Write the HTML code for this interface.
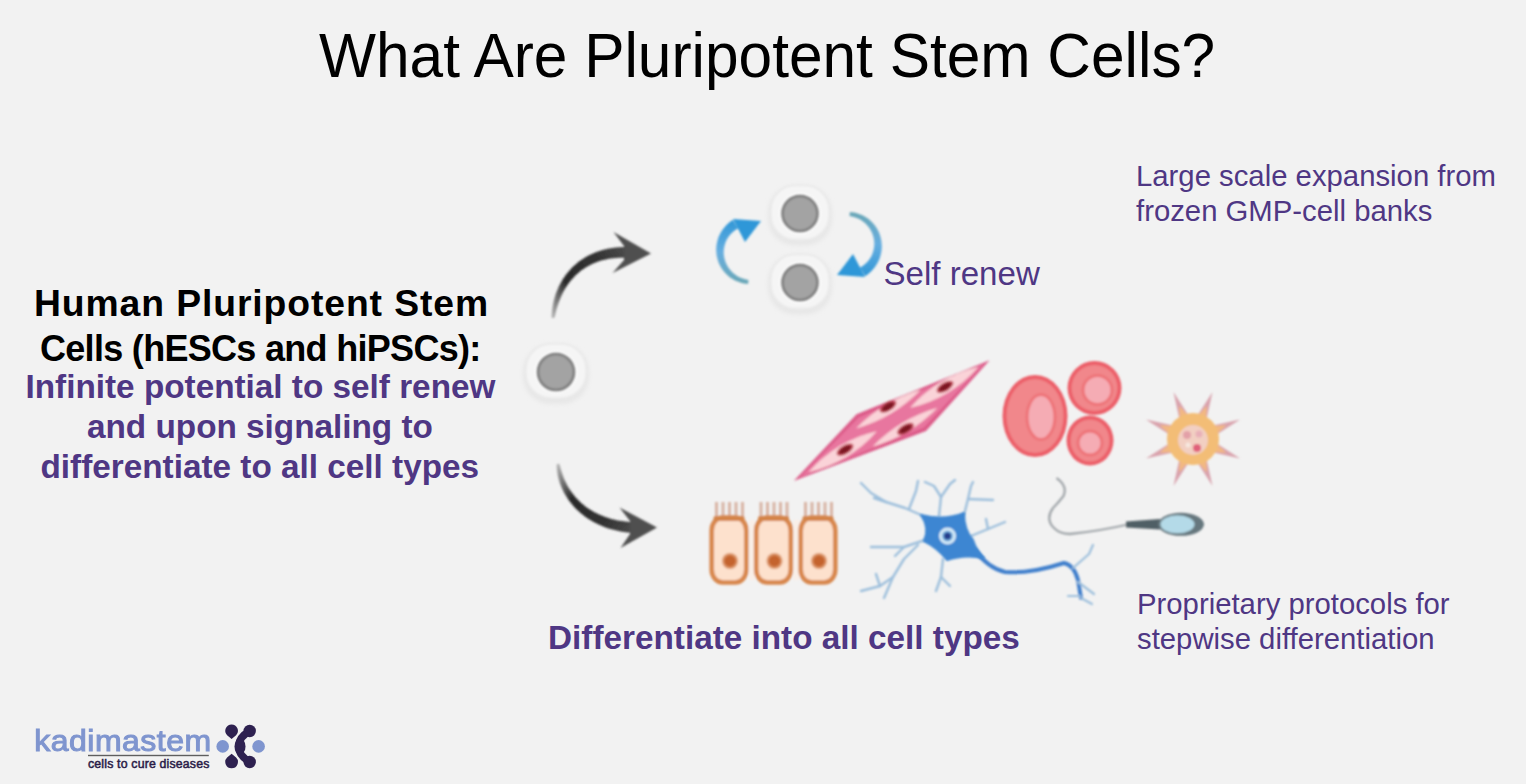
<!DOCTYPE html>
<html><head><meta charset="utf-8">
<style>
html,body{margin:0;padding:0;}
body{width:1526px;height:784px;background:#f2f2f2;position:relative;overflow:hidden;font-family:"Liberation Sans",sans-serif;}
.t{position:absolute;white-space:nowrap;line-height:1;}
#title{left:319px;top:24.1px;font-size:60.4px;color:#000;transform:scale(1,1.045);transform-origin:0 0;}
.lb{font-weight:bold;color:#000;font-size:38px;}
.lp{font-weight:bold;color:#4f3784;font-size:33.3px;}
.rp{color:#4f3784;font-size:29.3px;}
#art{position:absolute;left:0;top:0;}
</style></head><body>
<svg id="art" width="1526" height="784" viewBox="0 0 1526 784">
<defs>
<radialGradient id="nuc" cx="0.45" cy="0.4" r="0.6"><stop offset="0" stop-color="#a9a9a9"/><stop offset="0.7" stop-color="#969696"/><stop offset="1" stop-color="#7c7c7c"/></radialGradient>
<linearGradient id="blk1" gradientUnits="userSpaceOnUse" x1="553" y1="316" x2="650" y2="253"><stop offset="0" stop-color="#b0b0b0"/><stop offset="0.25" stop-color="#2a2a2a"/><stop offset="0.6" stop-color="#333"/><stop offset="1" stop-color="#5a5a5a"/></linearGradient>
<linearGradient id="blk2" gradientUnits="userSpaceOnUse" x1="558" y1="466" x2="656" y2="527"><stop offset="0" stop-color="#b0b0b0"/><stop offset="0.25" stop-color="#2a2a2a"/><stop offset="0.6" stop-color="#333"/><stop offset="1" stop-color="#5a5a5a"/></linearGradient>
<linearGradient id="blu1" gradientUnits="userSpaceOnUse" x1="750" y1="285" x2="750" y2="218"><stop offset="0" stop-color="#6aa6b4"/><stop offset="0.5" stop-color="#66aee0"/><stop offset="1" stop-color="#2d95d6"/></linearGradient>
<filter id="bl1" x="-20%" y="-20%" width="140%" height="140%"><feGaussianBlur stdDeviation="0.8"/></filter>
<filter id="bl2" x="-30%" y="-30%" width="160%" height="160%"><feGaussianBlur stdDeviation="2"/></filter>
</defs>
<rect x="523" y="344" width="66" height="60" rx="27.7" fill="#e7e7e7" filter="url(#bl2)"/>
<rect x="526" y="344" width="60" height="54" rx="25.1" fill="#f5f5f5" stroke="#ebebeb" stroke-width="1.5" filter="url(#bl1)"/>
<circle cx="556" cy="372" r="21.5" fill="#fbfbfb" filter="url(#bl1)"/>
<circle cx="556" cy="372" r="18" fill="#a3a3a3" stroke="#7d7d7d" stroke-width="2.6" filter="url(#bl1)"/>
<rect x="768" y="185.5" width="64" height="60" rx="26.9" fill="#e7e7e7" filter="url(#bl2)"/>
<rect x="771" y="185.5" width="58" height="54" rx="24.3" fill="#f5f5f5" stroke="#ebebeb" stroke-width="1.5" filter="url(#bl1)"/>
<circle cx="800" cy="213.5" r="21" fill="#fbfbfb" filter="url(#bl1)"/>
<circle cx="800" cy="213.5" r="17.5" fill="#a3a3a3" stroke="#7d7d7d" stroke-width="2.6" filter="url(#bl1)"/>
<rect x="768" y="254.5" width="64" height="60" rx="26.9" fill="#e7e7e7" filter="url(#bl2)"/>
<rect x="771" y="254.5" width="58" height="54" rx="24.3" fill="#f5f5f5" stroke="#ebebeb" stroke-width="1.5" filter="url(#bl1)"/>
<circle cx="800" cy="282.5" r="21" fill="#fbfbfb" filter="url(#bl1)"/>
<circle cx="800" cy="282.5" r="17.5" fill="#a3a3a3" stroke="#7d7d7d" stroke-width="2.6" filter="url(#bl1)"/>
<path d="M554.2,318.1 L555.1,315.3 L555.7,312.5 L556.4,309.8 L557.2,307.1 L558,304.5 L558.9,301.9 L559.9,299.4 L560.9,296.9 L562,294.5 L563.2,292.1 L564.5,289.8 L565.8,287.6 L567.2,285.4 L568.7,283.3 L570.3,281.3 L571.9,279.3 L573.6,277.4 L575.3,275.6 L577.2,273.9 L579.1,272.2 L581.1,270.6 L583.1,269.2 L585.3,267.7 L587.5,266.4 L589.7,265.2 L592.1,264 L594.5,263 L597,262 L599.6,261.1 L602.2,260.3 L605,259.7 L607.8,259.1 L610.7,258.6 L613.6,258.2 L616.7,257.9 L619.8,257.8 L623,257.7 L626.3,257.8 L629.8,258 L630.2,247 L626.5,246.9 L622.8,247 L619.2,247.2 L615.7,247.5 L612.3,248 L608.9,248.5 L605.7,249.2 L602.5,250.1 L599.4,251 L596.4,252 L593.5,253.2 L590.7,254.5 L588,255.8 L585.4,257.3 L582.8,258.9 L580.4,260.5 L578,262.3 L575.8,264.2 L573.7,266.1 L571.6,268.1 L569.7,270.2 L567.8,272.4 L566,274.6 L564.4,276.9 L562.8,279.3 L561.4,281.8 L560,284.3 L558.7,286.8 L557.6,289.4 L556.5,292.1 L555.5,294.8 L554.7,297.5 L553.9,300.3 L553.2,303.2 L552.7,306.1 L552.2,309 L551.9,311.9 L551.6,314.9 L551.8,317.9Z" fill="url(#blk1)" filter="url(#bl1)"/>
<path d="M613.5,232 L651,253.5 L612.5,273 L624,260 L624,246Z" fill="#505050" filter="url(#bl1)"/>
<path d="M556.8,464.2 L556.7,467 L556.9,469.8 L557.3,472.6 L557.8,475.4 L558.4,478.1 L559.2,480.7 L560,483.4 L561,486 L562.1,488.5 L563.2,491 L564.5,493.4 L565.9,495.8 L567.3,498.1 L568.9,500.4 L570.6,502.6 L572.3,504.8 L574.2,506.9 L576.1,508.9 L578.1,510.8 L580.2,512.7 L582.4,514.5 L584.6,516.3 L587,517.9 L589.4,519.5 L591.9,521 L594.5,522.5 L597.1,523.8 L599.8,525.1 L602.6,526.3 L605.5,527.4 L608.4,528.4 L611.3,529.3 L614.4,530.1 L617.5,530.8 L620.6,531.4 L623.8,532 L627.1,532.4 L630.4,532.8 L633.7,533 L634.3,522 L631.2,521.9 L628.2,521.7 L625.2,521.5 L622.3,521.1 L619.5,520.7 L616.7,520.2 L613.9,519.6 L611.2,518.9 L608.6,518.1 L606,517.3 L603.5,516.3 L601,515.3 L598.6,514.3 L596.2,513.1 L593.9,511.9 L591.7,510.6 L589.5,509.3 L587.4,507.9 L585.4,506.4 L583.4,504.8 L581.5,503.2 L579.6,501.5 L577.9,499.7 L576.2,497.9 L574.5,496.1 L573,494.1 L571.5,492.1 L570.1,490.1 L568.7,488 L567.4,485.8 L566.3,483.6 L565.2,481.3 L564.1,479 L563.2,476.6 L562.3,474.1 L561.5,471.6 L560.7,469.1 L560.1,466.5 L559.2,463.8Z" fill="url(#blk2)" filter="url(#bl1)"/>
<path d="M619.5,507.5 L657,527.5 L620.5,548 L630,534 L630,521Z" fill="#505050" filter="url(#bl1)"/>
<g transform="" filter="url(#bl1)"><path d="M748.5,279.9 L746.6,279.6 L744.8,279.2 L743,278.6 L741.2,278 L739.5,277.2 L737.9,276.4 L736.3,275.4 L734.8,274.3 L733.4,273.2 L732,271.9 L730.8,270.6 L729.6,269.2 L728.5,267.7 L727.6,266.2 L726.7,264.6 L725.9,263 L725.3,261.3 L724.7,259.6 L724.3,257.8 L724,256.1 L723.8,254.3 L723.7,252.5 L723.8,250.8 L723.9,249 L724.2,247.3 L724.6,245.5 L725,243.9 L725.6,242.2 L726.3,240.6 L727.1,239.1 L728,237.6 L729,236.2 L730.1,234.8 L731.2,233.5 L732.4,232.4 L733.7,231.2 L735.1,230.2 L736.5,229.3 L738.1,228.4 L732.9,219.9 L731.1,221.1 L729.2,222.5 L727.5,224.1 L725.8,225.7 L724.3,227.4 L722.9,229.3 L721.6,231.2 L720.4,233.2 L719.4,235.2 L718.5,237.3 L717.8,239.5 L717.2,241.7 L716.7,243.9 L716.4,246.2 L716.2,248.4 L716.2,250.7 L716.4,252.9 L716.6,255.2 L717.1,257.4 L717.6,259.5 L718.3,261.7 L719.1,263.7 L720.1,265.7 L721.2,267.7 L722.4,269.5 L723.7,271.3 L725.2,273 L726.7,274.6 L728.3,276 L730,277.4 L731.8,278.6 L733.7,279.7 L735.6,280.7 L737.6,281.6 L739.7,282.3 L741.8,282.9 L743.9,283.4 L746,283.7 L748.1,283.9Z" fill="url(#blu1)"/><path d="M733,219 L761,221 L745,242Z" fill="#2f97d8"/></g>
<g transform="rotate(180 799 248)" filter="url(#bl1)"><path d="M748.5,279.9 L746.6,279.6 L744.8,279.2 L743,278.6 L741.2,278 L739.5,277.2 L737.9,276.4 L736.3,275.4 L734.8,274.3 L733.4,273.2 L732,271.9 L730.8,270.6 L729.6,269.2 L728.5,267.7 L727.6,266.2 L726.7,264.6 L725.9,263 L725.3,261.3 L724.7,259.6 L724.3,257.8 L724,256.1 L723.8,254.3 L723.7,252.5 L723.8,250.8 L723.9,249 L724.2,247.3 L724.6,245.5 L725,243.9 L725.6,242.2 L726.3,240.6 L727.1,239.1 L728,237.6 L729,236.2 L730.1,234.8 L731.2,233.5 L732.4,232.4 L733.7,231.2 L735.1,230.2 L736.5,229.3 L738.1,228.4 L732.9,219.9 L731.1,221.1 L729.2,222.5 L727.5,224.1 L725.8,225.7 L724.3,227.4 L722.9,229.3 L721.6,231.2 L720.4,233.2 L719.4,235.2 L718.5,237.3 L717.8,239.5 L717.2,241.7 L716.7,243.9 L716.4,246.2 L716.2,248.4 L716.2,250.7 L716.4,252.9 L716.6,255.2 L717.1,257.4 L717.6,259.5 L718.3,261.7 L719.1,263.7 L720.1,265.7 L721.2,267.7 L722.4,269.5 L723.7,271.3 L725.2,273 L726.7,274.6 L728.3,276 L730,277.4 L731.8,278.6 L733.7,279.7 L735.6,280.7 L737.6,281.6 L739.7,282.3 L741.8,282.9 L743.9,283.4 L746,283.7 L748.1,283.9Z" fill="url(#blu1)"/><path d="M733,219 L761,221 L745,242Z" fill="#2f97d8"/></g>
<g transform="translate(892 421) rotate(-30.9)" filter="url(#bl1)">
<path d="M-115,1 L-27,-24 L115,-2 L24,26Z" fill="#dc5a88"/>
<path d="M-108,1 L-27,-20 L108,-2 L24,22Z" fill="#e8769f"/>
<path d="M-98,1 Q-58,-12 -18,1 Q-58,14 -98,1Z" fill="#fad3d8"/>
<path d="M22,-2 Q62,-15 102,-2 Q62,11 22,-2Z" fill="#fad3d8"/>
<path d="M-35,-12 Q3,-22 41,-12 Q3,-2 -35,-12Z" fill="#fad3d8"/>
<path d="M-30,12 Q8,2 46,12 Q8,22 -30,12Z" fill="#fad3d8"/>
<ellipse cx="-55" cy="0.5" rx="9.5" ry="4.5" fill="#c24456"/>
<ellipse cx="-55" cy="0.5" rx="7" ry="3" fill="#7c1822"/>
<ellipse cx="4" cy="-14.4" rx="9.5" ry="4.5" fill="#c24456"/>
<ellipse cx="4" cy="-14.4" rx="7" ry="3" fill="#7c1822"/>
<ellipse cx="7.5" cy="13.8" rx="9.5" ry="4.5" fill="#c24456"/>
<ellipse cx="7.5" cy="13.8" rx="7" ry="3" fill="#7c1822"/>
<ellipse cx="63" cy="-2.1" rx="9.5" ry="4.5" fill="#c24456"/>
<ellipse cx="63" cy="-2.1" rx="7" ry="3" fill="#7c1822"/>
</g>
<g filter="url(#bl1)">
<ellipse cx="1035" cy="416" rx="32.5" ry="41" fill="#ec5f69"/>
<ellipse cx="1035" cy="416" rx="28.5" ry="37" fill="#f1878b"/>
<ellipse cx="1041" cy="417" rx="15.5" ry="24" fill="#ee7479"/>
<ellipse cx="1041" cy="417" rx="12.5" ry="21" fill="#f5acb4"/>
<ellipse cx="1094.5" cy="388" rx="27" ry="27" fill="#ec5f69"/>
<ellipse cx="1094.5" cy="388" rx="23" ry="23" fill="#f1878b"/>
<ellipse cx="1097.5" cy="390" rx="16" ry="16" fill="#ee7479"/>
<ellipse cx="1097.5" cy="390" rx="13" ry="13" fill="#f5acb4"/>
<ellipse cx="1090" cy="440.5" rx="23.5" ry="25" fill="#ec5f69"/>
<ellipse cx="1090" cy="440.5" rx="19.5" ry="21" fill="#f1878b"/>
<ellipse cx="1090" cy="443" rx="13.5" ry="13.5" fill="#ee7479"/>
<ellipse cx="1090" cy="443" rx="10.5" ry="10.5" fill="#f5acb4"/>
</g>
<g filter="url(#bl1)">
<path d="M1196.3,417.2 L1212.5,391.9 L1206.1,421.3Z" fill="#d9a3ad"/>
<path d="M1196.3,417.2 L1206.8,405.7 L1206.1,421.3Z" fill="#f2b883"/>
<path d="M1210.7,425.9 L1240.1,419.5 L1214.8,435.7Z" fill="#d9a3ad"/>
<path d="M1210.7,425.9 L1226.3,425.2 L1214.8,435.7Z" fill="#f2b883"/>
<path d="M1214.8,442.3 L1240.1,458.5 L1210.7,452.1Z" fill="#d9a3ad"/>
<path d="M1214.8,442.3 L1226.3,452.8 L1210.7,452.1Z" fill="#f2b883"/>
<path d="M1206.1,456.7 L1212.5,486.1 L1196.3,460.8Z" fill="#d9a3ad"/>
<path d="M1206.1,456.7 L1206.8,472.3 L1196.3,460.8Z" fill="#f2b883"/>
<path d="M1189.7,460.8 L1173.5,486.1 L1179.9,456.7Z" fill="#d9a3ad"/>
<path d="M1189.7,460.8 L1179.2,472.3 L1179.9,456.7Z" fill="#f2b883"/>
<path d="M1175.3,452.1 L1145.9,458.5 L1171.2,442.3Z" fill="#d9a3ad"/>
<path d="M1175.3,452.1 L1159.7,452.8 L1171.2,442.3Z" fill="#f2b883"/>
<path d="M1171.2,435.7 L1145.9,419.5 L1175.3,425.9Z" fill="#d9a3ad"/>
<path d="M1171.2,435.7 L1159.7,425.2 L1175.3,425.9Z" fill="#f2b883"/>
<path d="M1179.9,421.3 L1173.5,391.9 L1189.7,417.2Z" fill="#d9a3ad"/>
<path d="M1179.9,421.3 L1179.2,405.7 L1189.7,417.2Z" fill="#f2b883"/>
<circle cx="1193" cy="439" r="26" fill="#f3bd76"/>
<circle cx="1193" cy="440" r="15" fill="#f2cfc2"/>
<circle cx="1187" cy="435" r="4" fill="#e3a0a8"/>
<circle cx="1199" cy="434" r="3.5" fill="#e8b0b8"/>
<circle cx="1197" cy="448" r="4" fill="#e0607a"/>
<circle cx="1188" cy="445" r="2.5" fill="#f6e8e0"/>
</g>
<g filter="url(#bl1)">
<rect x="749" y="520" width="6" height="60" fill="#f9efe8"/><rect x="793.5" y="520" width="6" height="60" fill="#f9efe8"/>
<rect x="715" y="502" width="3" height="15" fill="#d8b4a4"/>
<rect x="721.5" y="502" width="3" height="15" fill="#d8b4a4"/>
<rect x="728" y="502" width="3" height="15" fill="#d8b4a4"/>
<rect x="734.5" y="502" width="3" height="15" fill="#d8b4a4"/>
<rect x="741" y="502" width="3" height="15" fill="#d8b4a4"/>
<rect x="711.7" y="517.5" width="34.6" height="65" rx="11" ry="13" fill="#fde1cd" stroke="#d8874e" stroke-width="4.6"/>
<rect x="713.5" y="516" width="31" height="5" rx="2" fill="#d48448"/>
<circle cx="730" cy="561" r="8" fill="#dc9466"/>
<circle cx="730" cy="561" r="5.8" fill="#c4642e"/>
<rect x="759.5" y="502" width="3" height="15" fill="#d8b4a4"/>
<rect x="766" y="502" width="3" height="15" fill="#d8b4a4"/>
<rect x="772.5" y="502" width="3" height="15" fill="#d8b4a4"/>
<rect x="779" y="502" width="3" height="15" fill="#d8b4a4"/>
<rect x="785.5" y="502" width="3" height="15" fill="#d8b4a4"/>
<rect x="756.2" y="517.5" width="34.6" height="65" rx="11" ry="13" fill="#fde1cd" stroke="#d8874e" stroke-width="4.6"/>
<rect x="758" y="516" width="31" height="5" rx="2" fill="#d48448"/>
<circle cx="774.5" cy="561" r="8" fill="#dc9466"/>
<circle cx="774.5" cy="561" r="5.8" fill="#c4642e"/>
<rect x="804" y="502" width="3" height="15" fill="#d8b4a4"/>
<rect x="810.5" y="502" width="3" height="15" fill="#d8b4a4"/>
<rect x="817" y="502" width="3" height="15" fill="#d8b4a4"/>
<rect x="823.5" y="502" width="3" height="15" fill="#d8b4a4"/>
<rect x="830" y="502" width="3" height="15" fill="#d8b4a4"/>
<rect x="800.7" y="517.5" width="34.6" height="65" rx="11" ry="13" fill="#fde1cd" stroke="#d8874e" stroke-width="4.6"/>
<rect x="802.5" y="516" width="31" height="5" rx="2" fill="#d48448"/>
<circle cx="819" cy="561" r="8" fill="#dc9466"/>
<circle cx="819" cy="561" r="5.8" fill="#c4642e"/>
</g>
<g filter="url(#bl1)" fill="none" stroke-linecap="round" stroke-linejoin="round">
<path d="M921,515 L905,508 L886,502 L871,493 L861,483" stroke="#9dbfdc" stroke-width="2.4"/>
<path d="M909,509 L916,491 L918,481" stroke="#9dbfdc" stroke-width="2.4"/>
<path d="M886,502 L874,498" stroke="#9dbfdc" stroke-width="2.4"/>
<path d="M939,516 L941,497 L934,486 L925,482" stroke="#9dbfdc" stroke-width="2.4"/>
<path d="M941,497 L950,484 L955,480" stroke="#9dbfdc" stroke-width="2.4"/>
<path d="M964,515 L968,499 L971,486 L973,482" stroke="#9dbfdc" stroke-width="2.4"/>
<path d="M968,499 L993,500" stroke="#9dbfdc" stroke-width="2.4"/>
<path d="M971,536 L988,529 L1005,522" stroke="#9dbfdc" stroke-width="2.4"/>
<path d="M988,529 L986,519" stroke="#9dbfdc" stroke-width="2.4"/>
<path d="M925,540 L904,547 L871,547" stroke="#9dbfdc" stroke-width="2.4"/>
<path d="M904,547 L895,556" stroke="#9dbfdc" stroke-width="2.4"/>
<path d="M918,545 L904,559 L893,577 L880,586 L861,591" stroke="#9dbfdc" stroke-width="2.4"/>
<path d="M893,577 L884,598" stroke="#9dbfdc" stroke-width="2.4"/>
<path d="M880,586 L876,574" stroke="#9dbfdc" stroke-width="2.4"/>
<path d="M943,559 L941,577 L936,591" stroke="#9dbfdc" stroke-width="2.4"/>
<path d="M941,577 L950,586" stroke="#9dbfdc" stroke-width="2.4"/>
<path d="M975,550 Q988,568 1005,572 Q1030,574 1064,563 Q1074,565 1078,580 L1081,598" stroke="#3f7fcc" stroke-width="4"/>
<path d="M1073,568 L1089,554 L1093,545 M1078,582 L1094,594 M1080,596 L1068,596 M1081,598 L1092,604" stroke="#9dbfdc" stroke-width="2.2"/>
</g>
<g filter="url(#bl1)"><path d="M921,515 Q945,521 964,513 Q964,530 973,540 Q976,550 984,558 Q964,554 947,560 Q938,548 924,541 Q930,528 921,515Z" fill="#3d86d2" stroke="#3d86d2" stroke-width="2" stroke-linejoin="round"/>
<circle cx="947.5" cy="536" r="8.5" fill="#d8ecf8"/><circle cx="947.5" cy="536" r="5.5" fill="#6aa8dc"/><circle cx="947.5" cy="536" r="3.5" fill="#263c8c"/></g>
<g filter="url(#bl1)">
<path d="M1056.5,478 Q1068,486 1063.5,496 Q1058,503 1053,508 Q1045,519 1054,528 Q1060,534 1070,534 Q1100,531 1130,524" fill="none" stroke="#a2a7ab" stroke-width="2.3"/>
<path d="M1126,521.5 L1160,519 L1160,529.5 L1126,527.5Z" fill="#505f65"/>
<ellipse cx="1181" cy="524.3" rx="23" ry="11.5" fill="#66777e"/>
<ellipse cx="1177.5" cy="524.3" rx="17" ry="9" fill="#b4dae8"/>
</g>
<g>
<rect x="88" y="754.8" width="120.8" height="1.4" fill="#5e5e5e"/>
<circle cx="222.7" cy="746.4" r="6.3" fill="#7f95cf"/><circle cx="258.6" cy="746.4" r="6.3" fill="#7f95cf"/>
<path d="M231.6,724.5 a6.3,6.3 0 0 1 4.5,10.7 L231.6,739 L227.1,735.2 a6.3,6.3 0 0 1 4.5,-10.7Z" fill="#2e2150"/>
<path d="M231.6,768.3 a6.3,6.3 0 0 0 4.5,-10.7 L231.6,753.8 L227.1,757.6 a6.3,6.3 0 0 0 4.5,10.7Z" fill="#2e2150"/>
<circle cx="249.7" cy="731" r="6.2" fill="#2e2150"/><circle cx="249.7" cy="762" r="6.2" fill="#2e2150"/>
<path d="M249.7,731 Q238,738 239,746.4 Q238,755 249.7,762" fill="none" stroke="#2e2150" stroke-width="7.5" stroke-linejoin="round"/>
<ellipse cx="240" cy="746.4" rx="5.5" ry="8" fill="#2e2150"/>
</g>
</svg>
<div class="t" id="kad" style="left:34.2px;top:725.3px;font-size:32px;font-weight:normal;-webkit-text-stroke:1.1px #7f95cf;color:#7f95cf;letter-spacing:0.5px;transform:scale(1,0.95);transform-origin:0 0;">kadimastem</div>
<div class="t" id="ctc" style="left:88px;top:758px;font-size:12.3px;font-weight:normal;-webkit-text-stroke:0.5px #2a1c48;color:#2a1c48;letter-spacing:0.18px;">cells to cure diseases</div>
<div class="t" id="title">What Are Pluripotent Stem Cells?</div>
<div class="t lb" id="l1" style="font-size:37.3px;letter-spacing:0.9px;left:34px;top:284.5px;">Human Pluripotent Stem</div>
<div class="t lb" id="l2" style="font-size:36px;letter-spacing:-0.7px;left:40px;top:331px;">Cells (hESCs and hiPSCs):</div>
<div class="t lp" id="l3" style="left:25.5px;top:370px;">Infinite potential to self renew</div>
<div class="t lp" id="l4" style="left:87px;top:410px;">and upon signaling to</div>
<div class="t lp" id="l5" style="left:40.5px;top:450px;">differentiate to all cell types</div>
<div class="t rp" id="sr" style="left:883.5px;top:257px;font-size:33.1px;">Self renew</div>
<div class="t lp" id="dif" style="left:548px;top:621px;font-size:33.3px;">Differentiate into all cell types</div>
<div class="t rp" id="r1" style="left:1136px;top:161px;">Large scale expansion from</div>
<div class="t rp" id="r2" style="left:1136px;top:196px;">frozen GMP-cell banks</div>
<div class="t rp" id="r3" style="left:1137px;top:589px;">Proprietary protocols for</div>
<div class="t rp" id="r4" style="left:1137px;top:624px;">stepwise differentiation</div>
</body></html>
